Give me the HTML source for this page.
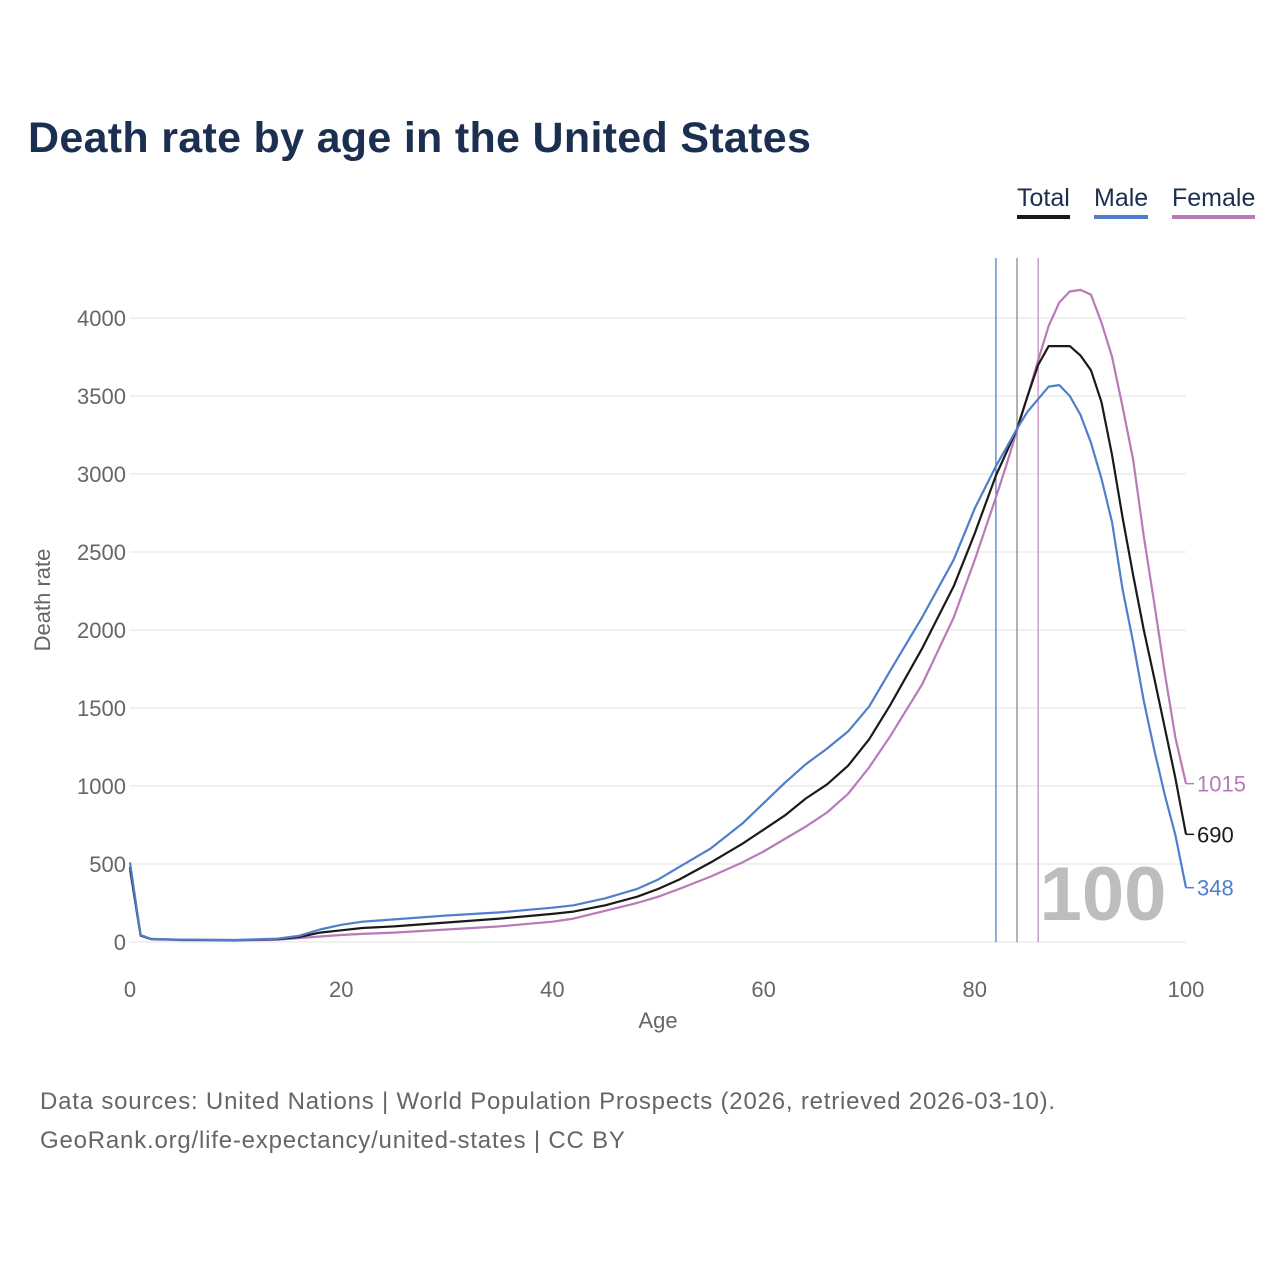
<!DOCTYPE html>
<html><head><meta charset="utf-8"><style>
html,body{margin:0;padding:0;background:#fff;}
body{width:1280px;height:1280px;position:relative;font-family:"Liberation Sans",sans-serif;overflow:hidden;}
#title{position:absolute;left:28px;top:114px;font-size:43px;font-weight:bold;color:#1b2f50;letter-spacing:0.3px;}
.leg{position:absolute;top:184px;font-size:25px;color:#1b2f50;padding-bottom:2px;}
.foot{position:absolute;left:40px;font-size:24px;color:#666;letter-spacing:0.8px;}
</style></head><body>
<div id="title">Death rate by age in the United States</div>
<div class="leg" style="left:1017px;border-bottom:4px solid #1a1a1a">Total</div>
<div class="leg" style="left:1094px;border-bottom:4px solid #4f7fcc">Male</div>
<div class="leg" style="left:1172px;border-bottom:4px solid #b87ab8">Female</div>
<svg id="chart" width="1280" height="1280" style="position:absolute;left:0;top:0"></svg>
<div class="foot" style="top:1088px">Data sources: United Nations | World Population Prospects (2026, retrieved 2026-03-10).</div>
<div class="foot" style="top:1127px">GeoRank.org/life-expectancy/united-states | CC BY</div>
<script>
const ages=[0,1,2,5,10,14,16,18,20,22,25,30,35,40,42,45,48,50,52,55,58,60,62,64,66,68,70,72,75,78,80,82,83,84,85,86,87,88,89,90,91,92,93,94,95,96,97,98,99,100];
const male=[510,45,20,15,13,22,40,80,110,130,145,170,190,220,235,280,340,400,480,600,760,890,1020,1140,1240,1350,1510,1740,2080,2450,2780,3050,3170,3290,3400,3480,3560,3570,3500,3380,3200,2970,2690,2260,1920,1545,1230,940,685,348];
const female=[460,40,18,12,10,15,25,35,45,52,60,80,100,130,150,200,250,290,340,420,510,580,660,740,830,950,1120,1320,1650,2080,2450,2850,3060,3280,3500,3730,3950,4100,4170,4180,4150,3970,3750,3430,3090,2600,2170,1720,1310,1015];
const total=[480,43,19,14,12,18,32,60,75,90,100,125,150,180,195,235,290,340,400,510,630,720,810,920,1010,1130,1300,1520,1880,2280,2620,2990,3140,3290,3500,3700,3820,3820,3820,3760,3665,3460,3120,2720,2350,2000,1690,1370,1050,690];
const yTicks=[0,500,1000,1500,2000,2500,3000,3500,4000];
const xTicks=[0,20,40,60,80,100];
const lifeExp={male:82,total:84,female:86};
const NS="http://www.w3.org/2000/svg";
const svg=document.getElementById('chart');
const X=a=>130+a*10.56;
const Y=v=>942-v*0.156;
function mk(t,at){const e=document.createElementNS(NS,t);for(const k in at)e.setAttribute(k,at[k]);svg.appendChild(e);return e;}
yTicks.forEach(t=>{
 const g=mk('line',{x1:130,x2:1186,y1:Y(t),y2:Y(t),stroke:'#e6e6e6','stroke-width':1.3});
 
 
 const l=mk('text',{x:126,y:Y(t)+8,'text-anchor':'end','font-size':22,fill:'#666','font-family':'Liberation Sans, sans-serif'});
 l.textContent=t;
 
 
});
xTicks.forEach(t=>{
 const l=mk('text',{x:X(t),y:997,'text-anchor':'middle','font-size':22,fill:'#666','font-family':'Liberation Sans, sans-serif'});
 l.textContent=t;
 
 
});
const xt=mk('text',{x:658,y:1028,'text-anchor':'middle','font-size':22,fill:'#666','font-family':'Liberation Sans, sans-serif'});
xt.textContent='Age';


const yt=mk('text',{x:0,y:0,'text-anchor':'middle','font-size':22,fill:'#666','font-family':'Liberation Sans, sans-serif',transform:'translate(50,600) rotate(-90)'});
yt.textContent='Death rate';


const big=mk('text',{x:1103,y:920,'text-anchor':'middle','font-size':76,'font-weight':'bold',fill:'#bdbdbd','font-family':'Liberation Sans, sans-serif'});
big.textContent='100';


[['male','#4f7fcc'],['total','#888'],['female','#c58fc5']].forEach(([k,c])=>{
 const v=mk('line',{x1:X(lifeExp[k]),x2:X(lifeExp[k]),y1:258,y2:942,stroke:c,'stroke-width':1.3});
 
 
});
[['female',female,'#b87ab8'],['total',total,'#1a1a1a'],['male',male,'#4f7fcc']].forEach(([k,arr,c])=>{
 const d=arr.map((v,i)=>(i?'L':'M')+X(ages[i]).toFixed(1)+','+Y(v).toFixed(1)).join('');
 const p=mk('path',{d:d,fill:'none',stroke:c,'stroke-width':2.2,'stroke-linejoin':'round'});
 
 
 const last=arr[arr.length-1];
 const ly=Y(last);
 const tick=mk('line',{x1:1186,x2:1194,y1:ly,y2:ly,stroke:c,'stroke-width':1.5});
 
 
 const t=mk('text',{x:1197,y:ly+8,'font-size':22,fill:c,'font-family':'Liberation Sans, sans-serif'});
 t.textContent=last;
 
 
});
</script>
</body></html>
